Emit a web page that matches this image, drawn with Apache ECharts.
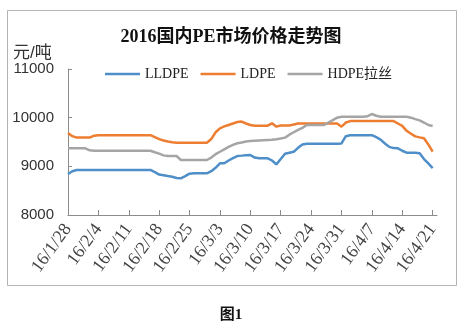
<!DOCTYPE html>
<html><head><meta charset="utf-8">
<style>html,body{margin:0;padding:0;background:#fff}#c{width:462px;height:332px}</style>
<script src="https://cdn.jsdelivr.net/npm/echarts@6/dist/echarts.min.js"></script>
</head><body><div id="c"></div>
<script>
var categories = [
"16/1/28","16/1/29","16/1/30","16/1/31",
"16/2/1","16/2/2","16/2/3","16/2/4","16/2/5","16/2/6","16/2/7","16/2/8","16/2/9","16/2/10",
"16/2/11","16/2/12","16/2/13","16/2/14","16/2/15","16/2/16","16/2/17","16/2/18","16/2/19","16/2/20",
"16/2/21","16/2/22","16/2/23","16/2/24","16/2/25","16/2/26","16/2/27","16/2/28","16/2/29",
"16/3/1","16/3/2","16/3/3","16/3/4","16/3/5","16/3/6","16/3/7","16/3/8","16/3/9","16/3/10",
"16/3/11","16/3/12","16/3/13","16/3/14","16/3/15","16/3/16","16/3/17","16/3/18","16/3/19","16/3/20",
"16/3/21","16/3/22","16/3/23","16/3/24","16/3/25","16/3/26","16/3/27","16/3/28","16/3/29","16/3/30","16/3/31",
"16/4/1","16/4/2","16/4/3","16/4/4","16/4/5","16/4/6","16/4/7","16/4/8","16/4/9","16/4/10",
"16/4/11","16/4/12","16/4/13","16/4/14","16/4/15","16/4/16","16/4/17","16/4/18","16/4/19","16/4/20","16/4/21","16/4/22"];

var lldpe = [
8843,8900,8925,8925,8925,8925,8925,8925,8925,8925,
8925,8925,8925,8925,8925,8925,8925,8925,8925,8925,
8880,8830,8815,8800,8787,8760,8754,8800,8850,8856,
8856,8856,8856,8900,8970,9062,9062,9120,9170,9212,
9220,9230,9233,9180,9165,9165,9165,9120,9040,9150,
9260,9280,9300,9380,9450,9465,9465,9465,9465,9465,
9465,9465,9465,9470,9620,9640,9640,9640,9640,9640,
9640,9600,9550,9470,9400,9375,9370,9320,9280,9280,
9280,9270,9150,9060,8965,null];

var ldpe = [
9685,9620,9590,9590,9590,9590,9630,9640,9640,9640,
9640,9640,9640,9640,9640,9640,9640,9640,9640,9640,
9600,9560,9530,9510,9495,9486,9486,9486,9486,9486,
9486,9486,9486,9560,9700,9780,9820,9850,9880,9910,
9920,9880,9850,9835,9835,9835,9835,9884,9815,9840,
9840,9840,9860,9880,9880,9880,9880,9880,9880,9880,
9880,9880,9880,9815,9900,9930,9930,9930,9930,9930,
9930,9930,9930,9930,9930,9930,9880,9830,9730,9670,
9615,9595,9576,9450,9300,null];

var hdpe = [
9370,9370,9370,9370,9370,9330,9321,9321,9321,9321,
9321,9321,9321,9321,9321,9321,9321,9321,9321,9321,
9290,9260,9225,9212,9212,9212,9130,9130,9130,9130,
9130,9130,9130,9180,9250,9300,9350,9400,9440,9475,
9490,9510,9520,9525,9530,9535,9540,9545,9555,9570,
9590,9650,9700,9750,9790,9850,9850,9850,9850,9850,
9900,9950,10000,10020,10020,10020,10020,10020,10020,10030,
10075,10040,10020,10020,10020,10020,10020,10020,10020,10000,
9970,9945,9900,9850,9830,null];

var seriesNames = ["LLDPE","LDPE","HDPE拉丝"];
var yTicks = {min: 8000, max: 11000, step: 1000};

var chart = echarts.init(document.getElementById('c'), null, {renderer:'canvas'});
var serif = "'Liberation Serif','Noto Sans CJK SC',serif";
var sans = "'Liberation Sans','Noto Sans CJK SC',sans-serif";
function line(name, data, color){
  return {name:name, type:'line', data:data, symbol:'none', smooth:false,
    lineStyle:{color:color, width:2.5}, itemStyle:{color:color}, z:3};
}
chart.setOption({
  animation:false,
  backgroundColor:'#fff',
  title:{text:'2016国内PE市场价格走势图', left:'center', top:23,
    textStyle:{fontFamily:serif, fontSize:18, fontWeight:'bold', color:'#111'}},
  legend:{top:62, left:100, itemWidth:35, itemHeight:12, itemGap:12,
    icon:'path://M0,5 L35,5 L35,7.5 L0,7.5 Z',
    textStyle:{fontFamily:serif, fontSize:14, color:'#222'},
    data:seriesNames},
  grid:{left:68, right:25, top:69, bottom:117, containLabel:false},
  xAxis:{type:'category', data:categories, boundaryGap:false,
    axisLine:{lineStyle:{color:'#8c8c8c', width:1}},
    axisTick:{inside:true, length:5, interval:6, lineStyle:{color:'#8c8c8c'}},
    axisLabel:{interval:6, rotate:54, margin:11, fontFamily:serif, fontSize:18, color:'#444'}},
  yAxis:{type:'value', min:yTicks.min, max:yTicks.max, interval:yTicks.step,
    name:'元/吨', nameLocation:'end', nameGap:0,
    nameTextStyle:{fontFamily:sans, fontSize:17, color:'#333', align:'left', padding:[0,0,7,-55]},
    axisLine:{show:true, lineStyle:{color:'#8c8c8c', width:1}},
    axisTick:{show:true, inside:true, length:4, lineStyle:{color:'#8c8c8c'}},
    splitLine:{show:false},
    axisLabel:{margin:14, fontFamily:sans, fontSize:15, color:'#333',
      formatter:function(v){return String(v);}}},
  graphic:[
    {type:'rect', shape:{x:7.5, y:10.5, width:449, height:275}, silent:true, z:-1,
      style:{fill:null, stroke:'#b4b4b4', lineWidth:1}},
    {type:'text', left:'center', top:308, silent:true,
      style:{text:'图1', fontFamily:serif, fontSize:15, fontWeight:'bold', fill:'#111'}}
  ],
  series:[line(seriesNames[0], lldpe, '#4f8fc9'), line(seriesNames[1], ldpe, '#ed7d31'), line(seriesNames[2], hdpe, '#a5a5a5')]
});
</script></body></html>
